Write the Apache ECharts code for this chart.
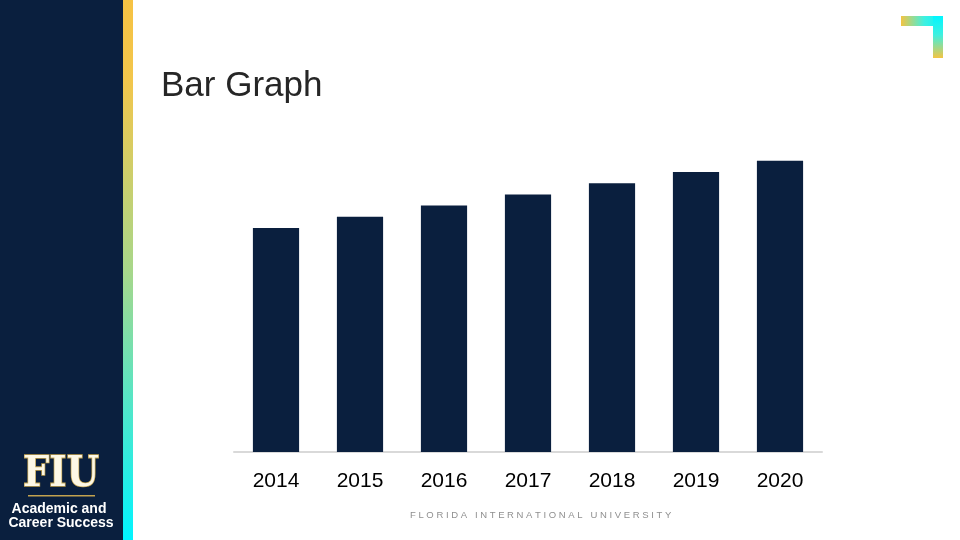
<!DOCTYPE html>
<html><head><meta charset="utf-8">
<script src="https://cdn.jsdelivr.net/npm/echarts@6/dist/echarts.min.js"></script>
<style>html,body{margin:0;padding:0;background:#fff}#c{width:960px;height:540px}</style>
</head><body><div id="c"></div>
<script>
const categories = ['2014','2015','2016','2017','2018','2019','2020'];
const values = [20, 21, 22, 23, 24, 25, 26];
const titleText = 'Bar Graph';
const footerText = 'F L O R I D A   I N T E R N A T I O N A L   U N I V E R S I T Y';

const chart = echarts.init(document.getElementById('c'), null, {renderer:'canvas'});
const navy = '#0a1f3e';
chart.setOption({
  animation:false,
  backgroundColor:'#ffffff',
  grid:{left:234, right:138, top:116, bottom:88},
  xAxis:{type:'category', data:categories,
    axisLine:{lineStyle:{color:'#d9d9d9', width:2}},
    axisTick:{show:false},
    axisLabel:{color:'#000', fontSize:21, fontFamily:'Liberation Sans, Arial, sans-serif', margin:19}},
  yAxis:{type:'value', min:0, max:30, show:false, splitLine:{show:false}},
  series:[{type:'bar', data:values, barWidth:'55%', itemStyle:{color:navy}}],
  graphic:[
    {type:'rect', left:0, top:0, shape:{width:123, height:540}, style:{fill:navy}, z:10},
    {type:'rect', left:123, top:0, shape:{width:10, height:540}, z:10,
      style:{fill:new echarts.graphic.LinearGradient(0,0,0,1,[{offset:0,color:'#f6c243'},{offset:0.15,color:'#f2c64c'},{offset:0.5,color:'#a8d78a'},{offset:0.75,color:'#52e6c8'},{offset:1,color:'#00f4ff'}])}},
    {type:'rect', left:901, top:16, shape:{width:42, height:10}, z:10,
      style:{fill:new echarts.graphic.LinearGradient(0,0,1,0,[{offset:0,color:'#f3c443'},{offset:0.55,color:'#3ff0e0'},{offset:1,color:'#00f6ff'}])}},
    {type:'rect', left:933, top:16, shape:{width:10, height:42}, z:10,
      style:{fill:new echarts.graphic.LinearGradient(0,0,0,1,[{offset:0,color:'#00f6ff'},{offset:0.45,color:'#3ff0e0'},{offset:1,color:'#f3c443'}])}},
    {type:'text', x:161, y:86, z:10, style:{text:titleText, fontSize:35, fill:'#262626', fontFamily:'Liberation Sans, Arial, sans-serif', verticalAlign:'middle'}},
    {type:'text', x:410, y:515, z:10, style:{text:footerText, fontSize:9.5, fill:'#8f8f8f', fontFamily:'Liberation Sans, Arial, sans-serif', verticalAlign:'middle'}},
    {type:'text', x:61, y:475, scaleY:1.15, z:11, style:{text:'FIU', fontSize:37, fontWeight:'bold', fontFamily:'DejaVu Serif, serif', fill:'#fdf8e6', stroke:'#c2a24f', lineWidth:1.5, align:'center', verticalAlign:'middle'}},
    {type:'rect', left:28, top:495, shape:{width:67, height:1.5}, style:{fill:'#c2a24f'}, z:11},
    {type:'text', x:59, y:509, z:11, style:{text:'Academic and', fontSize:14, fontWeight:'bold', fontFamily:'Liberation Sans, Arial, sans-serif', fill:'#ffffff', align:'center', verticalAlign:'middle'}},
    {type:'text', x:61, y:523, z:11, style:{text:'Career Success', fontSize:14, fontWeight:'bold', fontFamily:'Liberation Sans, Arial, sans-serif', fill:'#ffffff', align:'center', verticalAlign:'middle'}}
  ]
});
</script></body></html>
